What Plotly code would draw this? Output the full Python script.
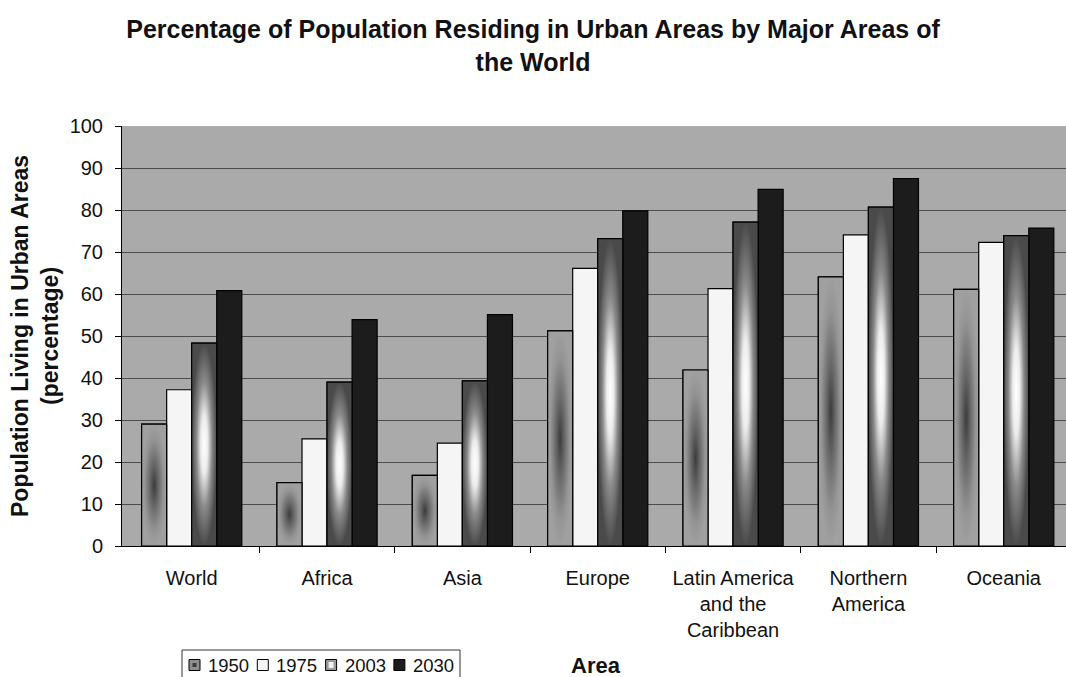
import plotly.graph_objects as go

# Urban population share (%) by major area, UN estimates and projections
areas = ["World", "Africa", "Asia", "Europe",
         "Latin America<br>and the<br>Caribbean", "Northern<br>America", "Oceania"]
years = ["1950", "1975", "2003", "2030"]
pct_1950 = [29.0, 15.1, 16.8, 51.2, 41.9, 64.1, 61.1]
pct_1975 = [37.2, 25.5, 24.5, 66.1, 61.3, 74.1, 72.3]
pct_2003 = [48.3, 39.0, 39.3, 73.2, 77.1, 80.7, 73.9]
pct_2030 = [60.8, 53.9, 55.1, 79.8, 84.9, 87.5, 75.7]
y_ticks = [0, 10, 20, 30, 40, 50, 60, 70, 80, 90, 100]

series = [pct_1950, pct_1975, pct_2003, pct_2030]

# page geometry (pixels)
W, H = 1066, 677
M_L, M_R, M_T, M_B = 122, 0, 126, 131
FONT = "Liberation Sans, Arial, Helvetica, sans-serif"

GROUP_W = 0.74
BAR_W = GROUP_W / len(years)

base_colors = ["#8f8f8f", "#f5f5f5", "#666666", "#1c1c1c"]
gradients = [
    [[0, "#3c3c3c"], [0.35, "#686868"], [0.75, "#949494"], [1, "#a0a0a0"]],
    None,
    [[0, "#ffffff"], [0.28, "#ececec"], [0.62, "#8a8a8a"], [1, "#4a4a4a"]],
    None,
]


def px(xp):
    return (xp - M_L) / (W - M_L - M_R)


def py(yp):
    return (H - M_B - yp) / (H - M_T - M_B)


fig = go.Figure()
xs = list(range(len(areas)))

for k, (name, vals) in enumerate(zip(years, series)):
    off = -GROUP_W / 2 + k * BAR_W
    fig.add_trace(go.Bar(
        x=xs, y=vals, width=BAR_W, offset=off, name=name,
        marker=dict(color=base_colors[k], line=dict(color="black", width=1.2)),
        showlegend=False,
    ))
    if gradients[k] is not None:
        # shaded overlay for each bar of this series
        for i, v in enumerate(vals):
            x0 = xs[i] + off
            x1 = x0 + BAR_W
            fig.add_trace(go.Scatter(
                x=[x0, x1, x1, x0, x0], y=[0, 0, v, v, 0],
                mode="lines", fill="toself",
                fillgradient=dict(type="radial", colorscale=gradients[k]),
                line=dict(color="black", width=1.2),
                hoverinfo="skip", showlegend=False,
            ))

# hand-built legend box
shapes = [dict(type="rect", xref="paper", yref="paper",
               x0=px(182), x1=px(460), y0=py(692), y1=py(650),
               line=dict(color="#333333", width=1), fillcolor="white", layer="above")]
annotations = []
for i, name in enumerate(years):
    sx = 189 + 68.3 * i
    shapes.append(dict(type="rect", xref="paper", yref="paper",
                       x0=px(sx), x1=px(sx + 11), y0=py(670.5), y1=py(659.5),
                       line=dict(color="black", width=1), fillcolor=base_colors[i], layer="above"))
    if i == 0:
        shapes.append(dict(type="rect", xref="paper", yref="paper",
                           x0=px(sx + 3.5), x1=px(sx + 7.5), y0=py(667), y1=py(663),
                           line=dict(width=0), fillcolor="#3a3a3a", layer="above"))
    if i == 2:
        shapes[-1]["fillcolor"] = "#9a9a9a"
        shapes.append(dict(type="rect", xref="paper", yref="paper",
                           x0=px(sx + 3), x1=px(sx + 8), y0=py(668), y1=py(662),
                           line=dict(width=0), fillcolor="#f0f0f0", layer="above"))
    annotations.append(dict(text=name, xref="paper", yref="paper",
                            x=px(sx + 17), y=py(665), xanchor="left", yanchor="middle",
                            showarrow=False, font=dict(size=18.5, color="#111", family=FONT)))

annotations.append(dict(text="Area", xref="paper", yref="paper",
                        x=px(596), y=py(665), xanchor="center", yanchor="middle",
                        showarrow=False, font=dict(size=22, color="#111", family=FONT, weight="bold")))
annotations.append(dict(text="Population Living in Urban Areas<br>(percentage)",
                        xref="paper", yref="paper", x=px(35), y=py(336),
                        xanchor="center", yanchor="middle", textangle=-90,
                        showarrow=False, font=dict(size=23, color="#111", family=FONT, weight="bold")))

fig.update_layout(
    width=W, height=H,
    margin=dict(l=M_L, r=M_R, t=M_T, b=M_B),
    paper_bgcolor="white", plot_bgcolor="#aaaaaa",
    barmode="overlay",
    font=dict(family=FONT, color="#111", size=20),
    title=dict(text="Percentage of Population Residing in Urban Areas by Major Areas of<br>the World",
               x=0.5, xref="container", xanchor="center",
               y=1 - 38 / H, yref="container", yanchor="top",
               font=dict(size=25, weight="bold", color="#111", family=FONT)),
    xaxis=dict(range=[-0.515, 6.46], tickmode="array", tickvals=xs, ticktext=areas,
               ticks="", showline=True, linecolor="black", linewidth=1,
               showgrid=False, zeroline=False, tickfont=dict(size=20),
               ticklabelstandoff=14,
               minor=dict(tickmode="array", tickvals=[i + 0.5 for i in xs[:-1]],
                          ticks="outside", ticklen=6, tickcolor="black", tickwidth=1,
                          showgrid=False)),
    yaxis=dict(range=[0, 100], tickmode="array", tickvals=y_ticks,
               showgrid=True, gridcolor="#4d4d4d", gridwidth=1,
               showline=True, linecolor="black", linewidth=1,
               ticks="outside", ticklen=6, tickcolor="black",
               zeroline=False, tickfont=dict(size=20), ticklabelstandoff=8),
    shapes=shapes,
    annotations=annotations,
    showlegend=False,
)

fig.write_html("out.html")
